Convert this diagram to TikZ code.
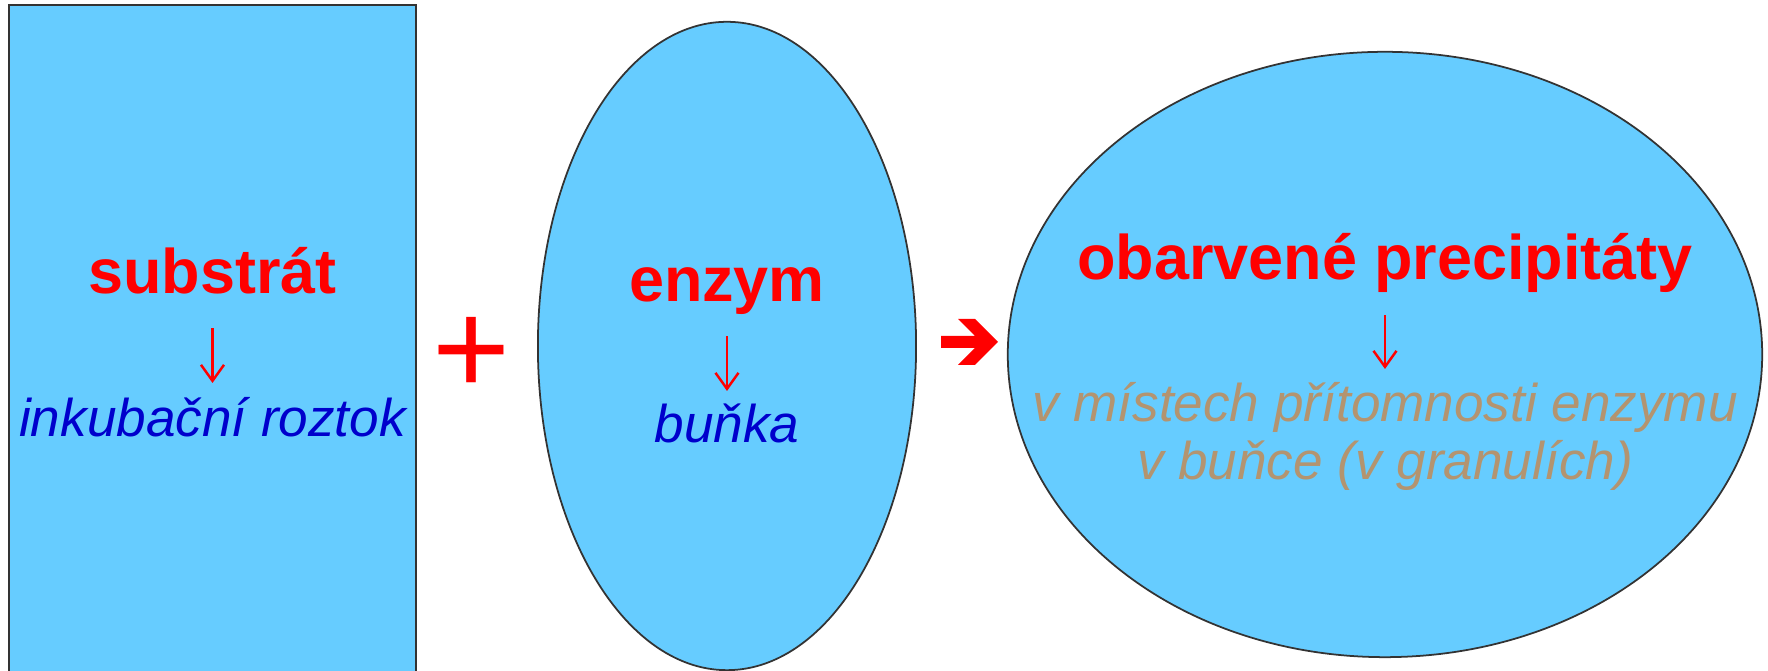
\documentclass[tikz,border=0pt]{standalone}
\usepackage{fontspec}
\setmainfont{Liberation Sans}
\usepackage{tikz}
\usetikzlibrary{shapes.geometric, arrows.meta, calc}

\definecolor{cellblue}{HTML}{66CCFF}
\definecolor{darkblue}{HTML}{0000CC}
\definecolor{tan}{HTML}{B39470}

\begin{document}
\begin{tikzpicture}[x=0.01cm, y=-0.01cm,
    box/.style={draw=black!80, line width=0.5pt, fill=cellblue, inner sep=0},
    mainword/.style={font=\fontsize{17.9}{21}\selectfont\bfseries, text=red, inner sep=0},
    subword/.style={font=\fontsize{15.1}{18}\selectfont\itshape, text=darkblue, inner sep=0},
    placeword/.style={font=\fontsize{15.1}{18}\selectfont\itshape, text=tan, inner sep=0},
    down/.style={red, line width=0.7pt, -{Straight Barb[length=1.6mm, width=2.3mm]}}]
            \useasboundingbox (0,0) rectangle (1768,671);
            % Shapes
            \node[box, rectangle, minimum width=4.07cm, minimum height=6.95cm] (sol) at (212.5,352.5) {};
            \node[box, ellipse, minimum width=3.78cm, minimum height=6.48cm] (cell) at (727,346) {};
            \node[box, ellipse, minimum width=7.54cm, minimum height=6.05cm] (prod) at (1385,354.5) {};
            % Nodes
            \node[mainword, anchor=base] (subst) at (212.5,294) {substrát};
            \node[subword, anchor=base] (inkub) at (212.5,437) {inkubační roztok};
            \node[mainword, anchor=base] (enzym) at (727,302) {enzym};
            \node[subword, anchor=base] (bunka) at (727,443) {buňka};
            \node[mainword, anchor=base] (precip) at (1385,280) {obarvené precipitáty};
            \node[placeword, anchor=base] (mista) at (1385,422) {v místech přítomnosti enzymu};
            \node[placeword, anchor=base] (gran) at (1385,480) {v buňce (v granulích)};
            \node[font=\fontsize{38}{40}\selectfont, text=red, inner sep=0] (plus) at (472,356) {+};
            % Edges
            \draw[down] ([yshift=-0.34cm]subst.base) -- ([yshift=0.54cm]inkub.base);
            \draw[down] ([yshift=-0.34cm]enzym.base) -- ([yshift=0.52cm]bunka.base);
            \draw[down] ([yshift=-0.35cm]precip.base) -- ([yshift=0.53cm]mista.base);
            \fill[red] (941,336) -- (975,336) -- (958,319) -- (975,319) -- (998,342)
                -- (975,365) -- (958,365) -- (975,348) -- (941,348) -- cycle;
        \end{tikzpicture}
\end{document}
